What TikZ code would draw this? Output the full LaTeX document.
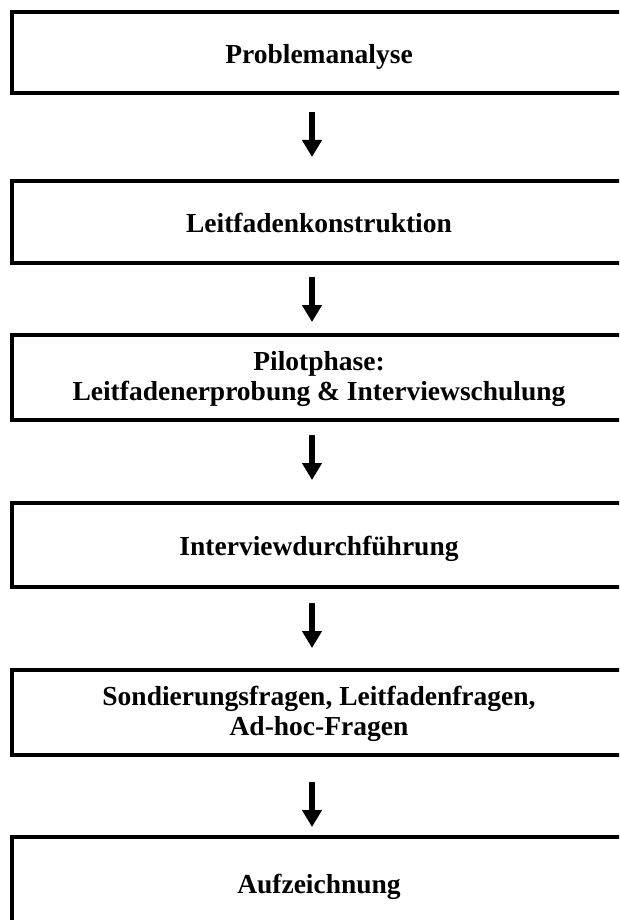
\documentclass[tikz,border=0pt]{standalone}
\usepackage{fontspec}
\setmainfont{Liberation Serif}
\usetikzlibrary{arrows.meta}
\tikzset{
  stepbox/.style={draw=black, line width=4pt, rectangle, minimum width=614pt, outer sep=0pt, inner sep=0pt},
  lbl/.style={font=\bfseries\fontsize{27.5}{30}\selectfont, align=center, inner sep=0pt},
  arr/.style={line width=6pt, -{Triangle[length=17pt,width=19pt]}}
}
\begin{document}
\begin{tikzpicture}[x=1pt,y=-1pt]
\useasboundingbox (0,0) rectangle (619,920);
\clip (0,0) rectangle (619,920);
\fill[white] (0,0) rectangle (619,920);
\node[stepbox, minimum height=81pt] (b1) at (319,52.5) {};
\node[stepbox, minimum height=82pt] (b2) at (319,222) {};
\node[stepbox, minimum height=85pt] (b3) at (319,377.5) {};
\node[stepbox, minimum height=84pt] (b4) at (319,545) {};
\node[stepbox, minimum height=85pt] (b5) at (319,712.5) {};
\node[stepbox, minimum height=86pt] (b6) at (319,880) {};
\node[lbl, anchor=base] (t1) at (319,64) {Problemanalyse};
\node[lbl, anchor=base] (t2) at (319,232) {Leitfadenkonstruktion};
\node[lbl, anchor=center] (t3) at (319,379) {Pilotphase:\\Leitfadenerprobung \& Interviewschulung};
\node[lbl, anchor=base] (t4) at (319,555) {Interviewdurchführung};
\node[lbl, anchor=center] (t5) at (319,714) {Sondierungsfragen, Leitfadenfragen,\\Ad-hoc-Fragen};
\node[lbl, anchor=base] (t6) at (319,893) {Aufzeichnung};
\draw[arr, shorten <=19pt, shorten >=24pt] ([xshift=-7pt]b1.south) -- ([xshift=-7pt]b2.north);
\draw[arr, shorten <=14pt, shorten >=13pt] ([xshift=-7pt]b2.south) -- ([xshift=-7pt]b3.north);
\draw[arr, shorten <=15pt, shorten >=23pt] ([xshift=-7pt]b3.south) -- ([xshift=-7pt]b4.north);
\draw[arr, shorten <=16pt, shorten >=22pt] ([xshift=-7pt]b4.south) -- ([xshift=-7pt]b5.north);
\draw[arr, shorten <=27pt, shorten >=10pt] ([xshift=-7pt]b5.south) -- ([xshift=-7pt]b6.north);
\end{tikzpicture}
\end{document}
